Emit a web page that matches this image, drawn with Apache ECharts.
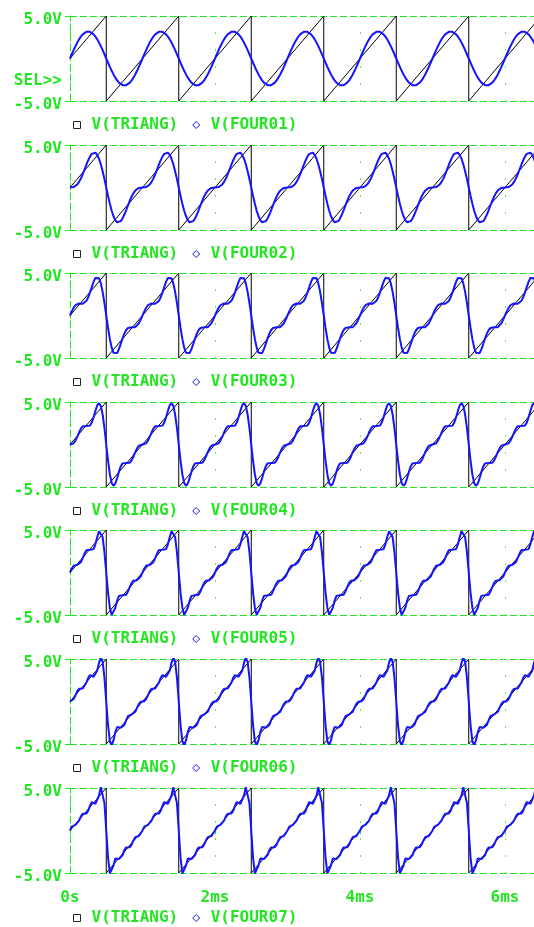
<!DOCTYPE html>
<html>
<head>
<meta charset="utf-8">
<script src="https://cdn.jsdelivr.net/npm/echarts@6/dist/echarts.min.js"></script>
<style>
  html, body { margin: 0; padding: 0; background: #fff; }
  #chart { width: 534px; height: 927px; }
</style>
</head>
<body>
<div id="chart"></div>
<script>
// one period of the traces (ms), sampled every 0.025 ms
const sampleT = [0, 0.025, 0.05, 0.075, 0.1, 0.125, 0.15, 0.175, 0.2, 0.225,
  0.25, 0.275, 0.3, 0.325, 0.35, 0.375, 0.4, 0.425, 0.45, 0.475,
  0.5, 0.525, 0.55, 0.575, 0.6, 0.625, 0.65, 0.675, 0.7, 0.725,
  0.75, 0.775, 0.8, 0.825, 0.85, 0.875, 0.9, 0.925, 0.95, 0.975]
const periodCount = 7

const four01 = [0, 0.50, 0.98, 1.45, 1.87, 2.25, 2.58, 2.84, 3.03, 3.14, 3.18, 3.14, 3.03, 2.84, 2.58, 2.25, 1.87, 1.45, 0.98, 0.50,
  0, -0.50, -0.98, -1.45, -1.87, -2.25, -2.58, -2.84, -3.03, -3.14, -3.18, -3.14, -3.03, -2.84, -2.58, -2.25, -1.87, -1.45, -0.98, -0.50]
const four02 = [0, 0.01, 0.05, 0.16, 0.36, 0.66, 1.06, 1.55, 2.09, 2.65, 3.18, 3.64, 3.96, 4.12, 4.09, 3.84, 3.38, 2.73, 1.92, 0.99,
  0, -0.99, -1.92, -2.73, -3.38, -3.84, -4.09, -4.12, -3.96, -3.64, -3.18, -2.65, -2.09, -1.55, -1.06, -0.66, -0.36, -0.16, -0.05, -0.01]
const four03 = [0, 0.49, 0.91, 1.21, 1.37, 1.41, 1.39, 1.38, 1.47, 1.71, 2.12, 2.69, 3.34, 3.96, 4.42, 4.59, 4.39, 3.78, 2.78, 1.47,
  0, -1.47, -2.78, -3.78, -4.39, -4.59, -4.42, -3.96, -3.34, -2.69, -2.12, -1.71, -1.47, -1.38, -1.39, -1.41, -1.37, -1.21, -0.91, -0.49]
const four04 = [0, 0.02, 0.15, 0.45, 0.90, 1.41, 1.86, 2.14, 2.22, 2.17, 2.12, 2.22, 2.58, 3.20, 3.95, 4.59, 4.86, 4.54, 3.53, 1.94,
  0, -1.94, -3.53, -4.54, -4.86, -4.59, -3.95, -3.20, -2.58, -2.22, -2.12, -2.17, -2.22, -2.14, -1.86, -1.41, -0.90, -0.45, -0.15, -0.02]
const four05 = [0, 0.47, 0.79, 0.90, 0.90, 0.96, 1.22, 1.69, 2.22, 2.62, 2.76, 2.67, 2.58, 2.75, 3.31, 4.14, 4.86, 4.99, 4.17, 2.39,
  0, -2.39, -4.17, -4.99, -4.86, -4.14, -3.31, -2.75, -2.58, -2.67, -2.76, -2.62, -2.22, -1.69, -1.22, -0.96, -0.90, -0.90, -0.79, -0.47]
const four06 = [0, 0.04, 0.28, 0.73, 1.21, 1.49, 1.53, 1.53, 1.72, 2.20, 2.76, 3.10, 3.09, 2.91, 3.00, 3.61, 4.55, 5.15, 4.68, 2.82,
  0, -2.82, -4.68, -5.15, -4.55, -3.61, -3.00, -2.91, -3.09, -3.10, -2.76, -2.20, -1.72, -1.53, -1.53, -1.49, -1.21, -0.73, -0.28, -0.04]
const four07 = [0, 0.45, 0.65, 0.66, 0.78, 1.17, 1.67, 1.97, 1.99, 1.99, 2.30, 2.90, 3.35, 3.36, 3.14, 3.29, 4.12, 5.08, 5.04, 3.22,
  0, -3.22, -5.04, -5.08, -4.12, -3.29, -3.14, -3.36, -3.35, -2.90, -2.30, -1.99, -1.99, -1.97, -1.67, -1.17, -0.78, -0.66, -0.65, -0.45]

// V(TRIANG) corner points
const triangT = [0, 0.5, 0.5, 1.5, 1.5, 2.5, 2.5, 3.5, 3.5, 4.5, 4.5, 5.5, 5.5, 6.5]
const triangV = [0, 5, -5, 5, -5, 5, -5, 5, -5, 5, -5, 5, -5, 5]

const fourNames = ['V(FOUR01)', 'V(FOUR02)', 'V(FOUR03)', 'V(FOUR04)', 'V(FOUR05)', 'V(FOUR06)', 'V(FOUR07)']
const fourData = [four01, four02, four03, four04, four05, four06, four07]
const xTicks = [0, 2, 4, 6]

const green = '#22e622'
const blue = '#1414ff'
const font = '"DejaVu Sans Mono", monospace'

const panelTop = 16
const panelStep = 128.6
const panelHeight = 85

function tile(values) {
  const out = []
  for (let p = 0; p < periodCount; p++) {
    for (let j = 0; j < sampleT.length; j++) {
      out.push([p + sampleT[j], values[j]])
    }
  }
  return out
}

const triang = triangT.map((t, i) => [t, triangV[i]])

const grids = []
const xAxes = []
const yAxes = []
const series = []
const legends = []

for (let i = 0; i < 7; i++) {
  const top = Math.round(panelTop + i * panelStep)
  const last = i === 6
  grids.push({ left: 70, top: top, width: 469.1, height: panelHeight })
  xAxes.push({
    gridIndex: i,
    type: 'value',
    min: 0,
    max: 6.4,
    interval: 2,
    axisLine: { show: false },
    axisTick: { show: last, length: 4, lineStyle: { color: green } },
    axisLabel: {
      show: last,
      margin: 17,
      color: green,
      fontFamily: font,
      fontSize: 16,
      fontWeight: 'bold',
      showMaxLabel: false,
      formatter: v => xTicks.indexOf(v) === -1 ? '' : (v === 0 ? '0s' : v + 'ms')
    },
    splitLine: {
      show: true,
      lineStyle: { color: green, width: 1, type: [1.5, 15.5], dashOffset: 0.75 }
    }
  })
  yAxes.push({
    gridIndex: i,
    type: 'value',
    min: -5,
    max: 5,
    interval: 10,
    axisLine: { show: true, onZero: false, lineStyle: { color: green, type: [7, 3] } },
    axisTick: { show: true, length: 5, lineStyle: { color: green } },
    axisLabel: {
      margin: 8,
      verticalAlign: 'top',
      lineHeight: 8,
      color: green,
      fontFamily: font,
      fontSize: 16,
      fontWeight: 'bold',
      formatter: v => v.toFixed(1) + 'V'
    },
    splitLine: { show: true, lineStyle: { color: green, type: [7, 3] } }
  })
  series.push({
    name: 'V(TRIANG)',
    type: 'line',
    xAxisIndex: i,
    yAxisIndex: i,
    data: triang,
    showSymbol: false,
    lineStyle: { color: '#000', width: 1 },
    itemStyle: { color: '#000' },
    z: 2
  })
  series.push({
    name: fourNames[i],
    type: 'line',
    xAxisIndex: i,
    yAxisIndex: i,
    data: tile(fourData[i]),
    showSymbol: false,
    lineStyle: { color: blue, width: 2 },
    itemStyle: { color: blue },
    z: 3
  })
  legends.push({
    left: 73,
    top: top + panelHeight + (last ? 37 : 16),
    padding: 0,
    itemWidth: 7,
    itemHeight: 7,
    itemGap: 14,
    selectedMode: false,
    textStyle: { color: green, fontFamily: font, fontSize: 16, fontWeight: 'bold', padding: [0, 0, 0, 6] },
    data: [
      { name: 'V(TRIANG)', icon: 'rect', itemStyle: { color: '#fff', borderColor: '#222', borderWidth: 1 } },
      { name: fourNames[i], icon: 'diamond', itemStyle: { color: '#fff', borderColor: blue, borderWidth: 1 } }
    ]
  })
}

const chart = echarts.init(document.getElementById('chart'))
chart.setOption({
  animation: false,
  backgroundColor: '#fff',
  grid: grids,
  xAxis: xAxes,
  yAxis: yAxes,
  legend: legends,
  series: series,
  graphic: [{
    type: 'text',
    x: 62,
    y: 81,
    style: {
      text: 'SEL>>',
      align: 'right',
      verticalAlign: 'middle',
      fill: green,
      font: 'bold 16px ' + font
    }
  }]
})
</script>
</body>
</html>
